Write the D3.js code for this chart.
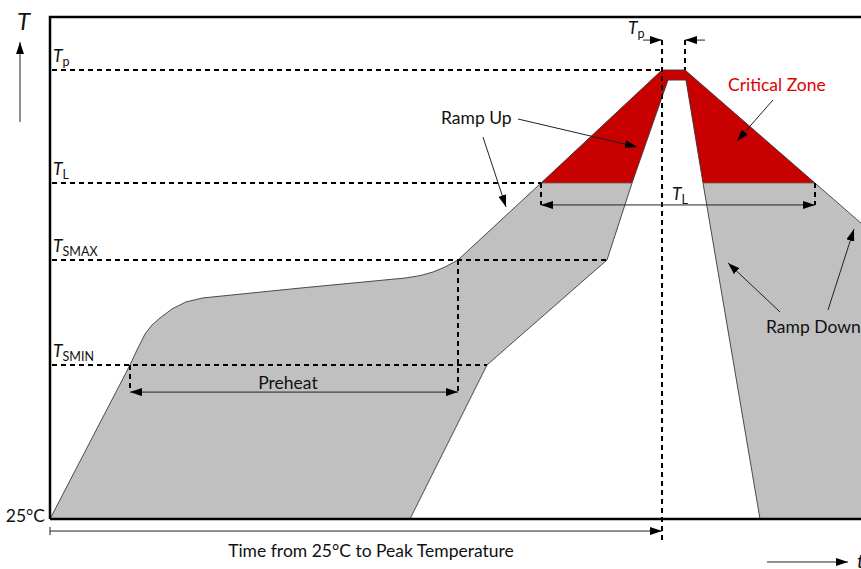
<!DOCTYPE html>
<html><head><meta charset="utf-8">
<script src="https://cdn.jsdelivr.net/npm/d3@7/dist/d3.min.js"></script>
<style>body{margin:0;background:#fff} text{font-family:Lato,"Open Sans",sans-serif;fill:#111}</style>
</head><body><svg id="c" width="861" height="569"></svg>
<script>
// Schematic units: time t, temperature v (25°C = 0)
const levelNames = ["p", "L", "SMAX", "SMIN"];
const levelValues = [223.6, 167.3, 129, 76.7];
const levelDashEnd = [306, 245.5, 278.5, 218.5];
const outerT = [0, 40, 43.5, 47.5, 51, 55, 61, 68, 76.5, 125, 177.5, 185, 191.5, 197.5, 204, 245.5, 306, 317.5, 382.5, 475, 475];
const outerV = [0, 76.7, 84.2, 92.1, 96.6, 100.1, 104.6, 108.1, 110.1, 115, 120, 121.2, 123, 125.5, 129, 167.3, 223.6, 223.6, 167.3, 87, 0];
const innerT = [355, 326.5, 318, 309, 291, 278.5, 218.5, 180];
const innerV = [0, 167.3, 218.6, 218.6, 167.3, 129, 76.7, 0];
const baseLabel = "25°C";
const timeLabel = "Time from 25°C to Peak Temperature";
const annotations = ["Ramp Up", "Critical Zone", "Ramp Down", "Preheat"];

const svg = d3.select("#c");
const x = d3.scaleLinear().domain([0, 405]).range([50, 860]);
const y = d3.scaleLinear().domain([0, 250]).range([519, 17]);

const defs = svg.append("defs");
defs.append("marker").attr("id", "ah").attr("viewBox", "0 0 12 8").attr("refX", 12).attr("refY", 4)
  .attr("markerWidth", 12).attr("markerHeight", 8).attr("markerUnits", "userSpaceOnUse").attr("orient", "auto-start-reverse")
  .append("path").attr("d", "M0,0L12,4L0,8Z").attr("fill", "#000");
defs.append("clipPath").attr("id", "above").append("rect")
  .attr("x", 0).attr("y", 0).attr("width", 861).attr("height", y(levelValues[1]));

const nOuter = outerT.length;
const envelope = outerT.map((t, i) => [t, outerV[i]]).concat(innerT.map((t, i) => [t, innerV[i]]));
const line = d3.line().x(d => x(d[0])).y(d => y(d[1]));

svg.append("path").attr("d", line(envelope) + "Z").attr("fill", "#c0c0c0").attr("stroke", "none");
svg.append("path").attr("d", line(envelope) + "Z").attr("fill", "#c80000").attr("stroke", "none").attr("clip-path", "url(#above)");
// outlines
svg.append("path").attr("d", line(outerT.slice(0, nOuter - 1).map((t, i) => [t, outerV[i]]))).attr("fill", "none").attr("stroke", "#3a3a3a").attr("stroke-width", 0.9);
svg.append("path").attr("d", line(innerT.map((t, i) => [t, innerV[i]]))).attr("fill", "none").attr("stroke", "#3a3a3a").attr("stroke-width", 0.9);
const tlv = levelValues[1];
svg.append("line").attr("x1", x(245.5)).attr("x2", x(291)).attr("y1", y(tlv)).attr("y2", y(tlv)).attr("stroke", "#666").attr("stroke-width", 0.8);
svg.append("line").attr("x1", x(326.5)).attr("x2", x(382.5)).attr("y1", y(tlv)).attr("y2", y(tlv)).attr("stroke", "#666").attr("stroke-width", 0.8);

// frame / axes
const frame = svg.append("g").attr("stroke", "#000").attr("stroke-width", 2.5).attr("fill", "none");
frame.append("path").attr("d", `M${x(0)},${y(0)}V${y(250)}H861`);
frame.append("path").attr("d", `M${x(0)},${y(0)}H861`);

// dashed level lines + labels
const dash = svg.append("g").attr("stroke", "#000").attr("stroke-width", 2).attr("stroke-dasharray", "5,4").attr("fill", "none");
levelValues.forEach((v, i) => {
  dash.append("line").attr("x1", x(0) + 2).attr("x2", x(levelDashEnd[i])).attr("y1", y(v)).attr("y2", y(v));
  const t = svg.append("text").attr("x", x(0) + 3).attr("y", y(v) - 8).attr("font-size", 17.5);
  t.append("tspan").text("T").attr("font-style", "italic");
  t.append("tspan").text(levelNames[i]).attr("font-size", 12.5).attr("dy", 4);
});
// peak verticals
dash.append("line").attr("x1", x(306)).attr("x2", x(306)).attr("y1", y(238.5)).attr("y2", y(-11.5));
dash.append("line").attr("x1", x(317.5)).attr("x2", x(317.5)).attr("y1", y(238.5)).attr("y2", y(223.6));
// preheat verticals
dash.append("line").attr("x1", x(40)).attr("x2", x(40)).attr("y1", y(76.7)).attr("y2", y(63.2));
dash.append("line").attr("x1", x(204)).attr("x2", x(204)).attr("y1", y(129)).attr("y2", y(63.2));
// TL verticals
dash.append("line").attr("x1", x(245.5)).attr("x2", x(245.5)).attr("y1", y(167.3)).attr("y2", y(156.4));
dash.append("line").attr("x1", x(382.5)).attr("x2", x(382.5)).attr("y1", y(167.3)).attr("y2", y(156.4));

// arrows
const arrows = svg.append("g").attr("stroke", "#222").attr("stroke-width", 1).attr("fill", "none");
function arrow(t1, v1, t2, v2, both) {
  const a = arrows.append("line").attr("x1", x(t1)).attr("y1", y(v1)).attr("x2", x(t2)).attr("y2", y(v2)).attr("marker-end", "url(#ah)");
  if (both) a.attr("marker-start", "url(#ah)");
}
arrow(40, 63.2, 204, 63.2, true);
arrow(245.5, 156.4, 382.5, 156.4, true);
arrow(0, -6, 306, -6, false);
arrow(296.5, 238.5, 306, 238.5, false);
arrow(327.5, 238.5, 317.5, 238.5, false);
arrow(-15, 197.7, -15, 237.5, false);
arrow(358.5, -21.4, 399, -21.4, false);
arrow(234, 199.2, 293.5, 185.3, false);
arrow(216.5, 190.2, 228, 155.4, false);
arrow(361.5, 208.7, 343.5, 188.2, false);
arrow(365, 103.1, 339, 127.5, false);
arrow(389, 104.1, 402, 144.4, false);
arrows.append("line").attr("x1", x(0)).attr("x2", x(0)).attr("y1", y(-6) - 4).attr("y2", y(-6) + 4);

// texts
svg.append("text").attr("x", x(-16.5)).attr("y", 30).attr("font-size", 24).attr("font-style", "italic").text("T");
svg.append("text").attr("x", x(403.5)).attr("y", y(-21.4) + 6).attr("font-size", 20).attr("font-style", "italic").text("t");
svg.append("text").attr("x", x(0) - 5).attr("y", y(0) + 3).attr("font-size", 17.5).attr("text-anchor", "end").text(baseLabel);
svg.append("text").attr("x", x(160.5)).attr("y", y(-18.9)).attr("font-size", 17.5).attr("text-anchor", "middle").text(timeLabel);
svg.append("text").attr("x", x(195.5)).attr("y", y(196.7)).attr("font-size", 17.5).text(annotations[0]);
svg.append("text").attr("x", x(339)).attr("y", y(213.1)).attr("font-size", 17.5).style("fill", "#e00000").text(annotations[1]);
svg.append("text").attr("x", x(358)).attr("y", y(92.6)).attr("font-size", 17.5).text(annotations[2]);
svg.append("text").attr("x", x(119)).attr("y", y(64.7)).attr("font-size", 17.5).attr("text-anchor", "middle").text(annotations[3]);
const tl = svg.append("text").attr("x", x(311)).attr("y", y(158.9)).attr("font-size", 17.5);
tl.append("tspan").text("T").attr("font-style", "italic");
tl.append("tspan").text("L").attr("font-size", 12.5).attr("dy", 4);
const tp = svg.append("text").attr("x", x(289)).attr("y", y(241.5)).attr("font-size", 17.5);
tp.append("tspan").text("T").attr("font-style", "italic");
tp.append("tspan").text("p").attr("font-size", 12.5).attr("dy", 4);
</script></body></html>
